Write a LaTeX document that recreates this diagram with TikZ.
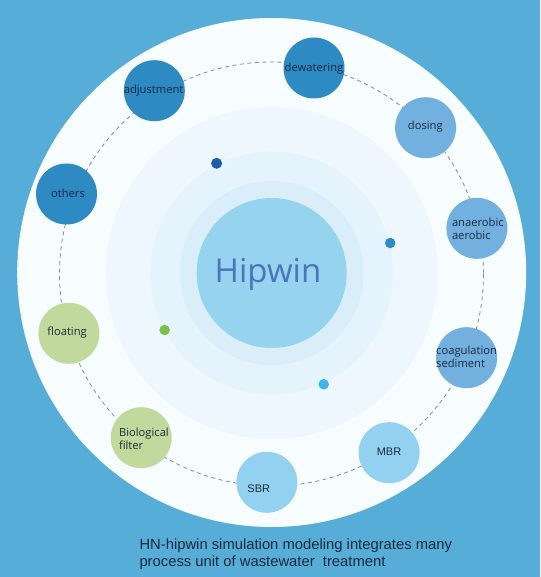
\documentclass[tikz,border=0pt]{standalone}
\usepackage{fontspec}
\setmainfont{Open Sans}
\newfontfamily\arialf{Liberation Sans}
\definecolor{bgc}{HTML}{55ADD8}
\definecolor{paper}{HTML}{F7FCFF}
\definecolor{ringa}{HTML}{EEF7FD}
\definecolor{ringb}{HTML}{E5F3FC}
\definecolor{ringc}{HTML}{DAEEFA}
\definecolor{hubc}{HTML}{95D3EF}
\definecolor{hubtext}{HTML}{4C74BA}
\definecolor{darkc}{HTML}{2E8AC3}
\definecolor{midc}{HTML}{72B0E0}
\definecolor{lightc}{HTML}{92D2F0}
\definecolor{greenc}{HTML}{C2D99E}
\definecolor{txtc}{HTML}{1B2A3A}
\definecolor{orbitc}{HTML}{7F8CA8}
\definecolor{dotdark}{HTML}{1B5FAA}
\definecolor{dotmid}{HTML}{2C8ACB}
\definecolor{dotgreen}{HTML}{7CBE46}
\definecolor{dotcyan}{HTML}{3BB7ED}
\begin{document}
\begin{tikzpicture}[x=1pt,y=-1pt,
  proc/.style={circle,minimum size=61pt,inner sep=0pt,draw=none},
  lbl/.style={inner sep=0pt,text=txtc,font=\fontsize{11.2}{13}\selectfont},
  albl/.style={inner sep=0pt,text=txtc,font=\arialf\fontsize{11}{13}\selectfont},
  dotn/.style={circle,inner sep=0pt,draw=none},
  orbit/.style={draw=orbitc,line width=0.8pt,dash pattern=on 4pt off 3.5pt}]
\useasboundingbox (0,0) rectangle (540,577);
\fill[bgc] (0,0) rectangle (540,577);
\fill[paper] (271.7,272.5) circle[radius=254.5];
\fill[ringa] (271.7,273) circle[radius=166];
\fill[ringb] (271.7,273) circle[radius=121.5];
\fill[ringc] (271.7,273) circle[radius=92];
\node[circle,fill=hubc,minimum size=150pt,inner sep=0pt] (hub) at (271.7,273) {};
\node[inner sep=0pt,anchor=base,text=hubtext,font=\fontsize{33}{36}\selectfont] (hubtxt) at (268,282) {Hipwin};
\draw[orbit] (271.5,274) circle[radius=212];
% dots
\node[dotn,fill=dotdark,minimum size=11pt] (d1) at (216.6,163.3) {};
\node[dotn,fill=dotmid,minimum size=10.5pt] (d2) at (390.2,243) {};
\node[dotn,fill=dotgreen,minimum size=10.5pt] (d3) at (164.6,330) {};
\node[dotn,fill=dotcyan,minimum size=10.5pt] (d4) at (323.7,384.3) {};
% process nodes
\node[proc,fill=darkc] (dew) at (314,68) {};
\node[proc,fill=darkc] (adj) at (154.3,90.7) {};
\node[proc,fill=midc] (dos) at (425.6,127.7) {};
\node[proc,fill=darkc] (oth) at (66.5,194) {};
\node[proc,fill=midc] (ana) at (476.9,228.3) {};
\node[proc,fill=midc] (coa) at (466.6,357.7) {};
\node[proc,fill=lightc] (mbr) at (389.1,452.7) {};
\node[proc,fill=lightc] (sbr) at (266.9,482.3) {};
\node[proc,fill=greenc] (bio) at (141.2,437.7) {};
\node[proc,fill=greenc] (flo) at (68.9,333.3) {};
% labels
\node[lbl,anchor=base] (dewt) at (314,71.7) {dewatering};
\node[lbl,anchor=base] (adjt) at (153.6,94) {adjustment};
\node[lbl,anchor=base] (dost) at (425.3,129.3) {dosing};
\node[lbl,anchor=base] (otht) at (68,197.7) {others};
\node[lbl,anchor=base west] (anat1) at (451.8,226) {anaerobic};
\node[lbl,anchor=base west] (anat2) at (451.8,239.3) {aerobic};
\node[lbl,anchor=base west] (coat1) at (436,354) {coagulation};
\node[lbl,anchor=base west] (coat2) at (436,367.3) {sediment};
\node[lbl,anchor=base] (flot) at (67.1,335) {floating};
\node[lbl,anchor=base west] (biot1) at (118.8,436.7) {Biological};
\node[lbl,anchor=base west] (biot2) at (118.8,449.3) {filter};
\node[albl,anchor=base] (mbrt) at (389,455.7) {MBR};
\node[albl,anchor=base] (sbrt) at (258.8,492) {SBR};
% caption
\node[inner sep=0pt,anchor=base west,text=txtc,font=\arialf\fontsize{14.8}{17}\selectfont] (cap1) at (139.3,549.3) {HN-hipwin simulation modeling integrates many};
\node[inner sep=0pt,anchor=base west,text=txtc,font=\arialf\fontsize{14.8}{17}\selectfont] (cap2) at (139.3,566.3) {process unit of wastewater\ \ treatment};
\end{tikzpicture}
\end{document}
